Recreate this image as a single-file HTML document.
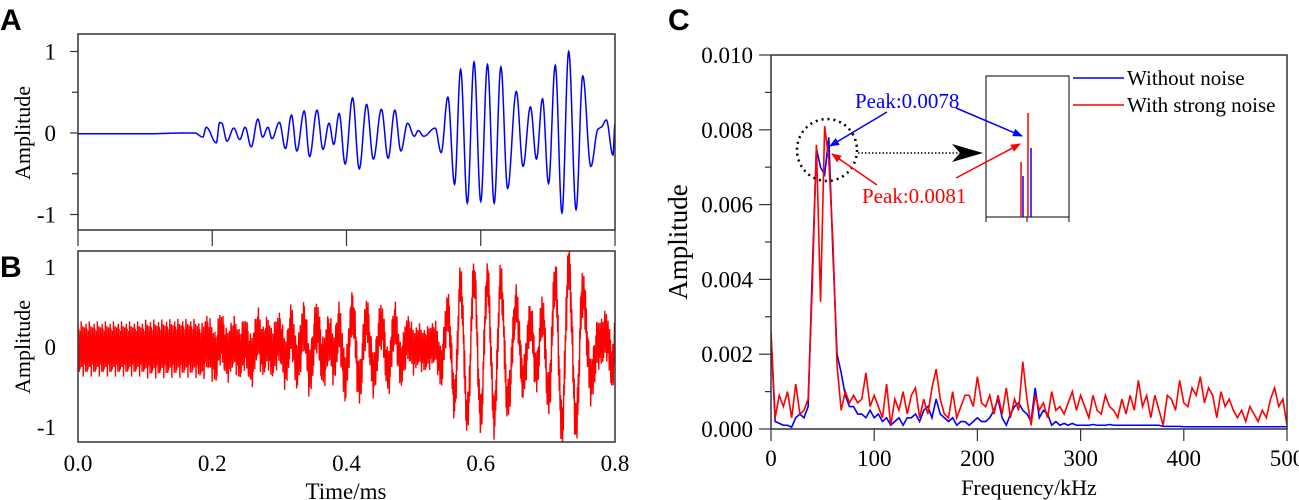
<!DOCTYPE html>
<html><head><meta charset="utf-8"><style>
body{margin:0;background:#fff;}
svg{display:block;font-family:"Liberation Serif",serif;}
.lbl{font-family:"Liberation Sans",sans-serif;font-weight:bold;font-size:30px;}
</style></head><body>
<svg id="fig" width="1299" height="500" viewBox="0 0 1299 500">
<defs>
<clipPath id="clipA"><rect x="78" y="34" width="537" height="196"/></clipPath>
<clipPath id="clipB"><rect x="78" y="251" width="537" height="191"/></clipPath>
<clipPath id="clipC"><rect x="771" y="40" width="516" height="390"/></clipPath>
<marker id="hb" markerWidth="10" markerHeight="8" refX="9" refY="4" orient="auto" markerUnits="userSpaceOnUse"><path d="M0,0 L10,4 L0,8 Z" fill="#0000ff"/></marker>
<marker id="hr" markerWidth="10" markerHeight="8" refX="9" refY="4" orient="auto" markerUnits="userSpaceOnUse"><path d="M0,0 L10,4 L0,8 Z" fill="#ff0000"/></marker>
</defs>
<text class="lbl" x="0" y="30">A</text>
<text class="lbl" x="0" y="277">B</text>
<text class="lbl" x="668" y="30">C</text>
<g id="gA"></g>
<g id="gB"></g>
<g id="gC"></g>
</svg>
<script>
// Panel A clean signal extremes (time ms, amplitude)
const tA=[0,0.1,0.16,0.174,0.186,0.191,0.206,0.211,0.214,0.222,0.232,0.241,0.249,0.258,0.268,0.275,0.283,0.289,0.300,0.309,0.318,0.326,0.337,0.345,0.356,0.365,0.374,0.381,0.389,0.398,0.409,0.419,0.430,0.440,0.452,0.462,0.472,0.481,0.491,0.501,0.507,0.515,0.532,0.541,0.551,0.561,0.570,0.580,0.590,0.600,0.610,0.620,0.630,0.640,0.653,0.663,0.674,0.683,0.692,0.701,0.711,0.721,0.731,0.742,0.752,0.764,0.775,0.779,0.787,0.797,0.800];
const vA=[-0.01,-0.01,0,0.0,-0.05,0.07,-0.12,0.13,0.12,-0.1,0.06,-0.08,0.07,-0.17,0.17,-0.05,0.07,-0.07,0.13,-0.19,0.22,-0.22,0.27,-0.29,0.28,-0.2,0.12,-0.14,0.24,-0.38,0.43,-0.44,0.35,-0.32,0.29,-0.31,0.28,-0.22,0.12,-0.04,0.03,-0.04,0.06,-0.24,0.44,-0.63,0.78,-0.86,0.87,-0.84,0.84,-0.86,0.81,-0.68,0.51,-0.41,0.32,-0.32,0.42,-0.62,0.83,-0.98,1.0,-0.94,0.7,-0.41,0.05,0.07,0.16,-0.27,0.12];
// Panel B noise amplitude per 0.1 ms, and noise pattern
const noiseAmpB=[0.3,0.32,0.3,0.3,0.27,0.25,0.25,0.28,0.3];
const noisePat=[1,-0.6,0.8,-1,0.4,-0.9,0.7,-0.3,1.1,-0.8,0.5,-0.45,0.9,-1.2,0.3,-0.7,0.85,-0.5,0.6,-1];
// Panel C spectra, 0..500 kHz step 4
const freqStep=4;
const specRed=[0.0026,0.0003,0.0009,0.0006,0.001,0.0003,0.0012,0.0004,0.0005,0.0008,0.0038,0.0076,0.0034,0.0081,0.0072,0.005,0.0017,0.0005,0.001,0.0007,0.0009,0.0007,0.0008,0.0015,0.0006,0.0009,0.0006,0.0003,0.0012,0.0001,0.0008,0.0005,0.001,0.0004,0.0009,0.0011,0.0003,0.0008,0.0004,0.0011,0.0016,0.0008,0.0004,0.0003,0.001,0.0003,0.0006,0.0009,0.0009,0.0006,0.0014,0.0007,0.0006,0.0009,0.0004,0.0009,0.0004,0.0011,0.0003,0.0008,0.0005,0.0018,0.0008,0.0001,0.0009,0.0005,0.0007,0.0003,0.001,0.0005,0.0006,0.0004,0.0007,0.001,0.0005,0.0009,0.0006,0.0003,0.0009,0.0005,0.0004,0.0009,0.0006,0.0005,0.0003,0.0008,0.0004,0.0009,0.0005,0.0013,0.0006,0.0009,0.0003,0.0009,0.0005,0.0001,0.0009,0.0008,0.0005,0.0013,0.0007,0.0006,0.0011,0.0009,0.0014,0.0007,0.0011,0.0009,0.0003,0.001,0.0006,0.0008,0.0005,0.0003,0.0005,0.0002,0.0006,0.0004,0.0002,0.0005,0.0003,0.0008,0.0011,0.0006,0.0008,0.0001];
const specBlue=[0.0025,0.0002,0.00015,0.0001,0.0001,0.00005,0.0003,0.0004,0.0003,0.0006,0.0042,0.0075,0.007,0.0068,0.0078,0.0047,0.002,0.0015,0.0009,0.0006,0.0006,0.0004,0.0004,0.0003,0.0005,0.0003,0.0004,0.0002,0.0003,0.0001,0.0002,0.0003,0.0001,0.0003,0.0003,0.0004,0.0002,0.0005,0.0006,0.0003,0.0008,0.0004,0.0003,0.0002,0.0003,0.0001,0.0002,0.0002,0.0001,0.0002,0.0003,0.0002,0.0002,0.0003,0.0005,0.0008,0.0003,0.0001,0.0004,0.0006,0.0007,0.0005,0.0004,0.0002,0.0011,0.0003,0.0005,0.0004,0.0001,0.0002,0.0001,0.00015,0.0001,0.00015,0.0001,0.0001,0.0001,0.0001,0.00012,0.0001,0.0001,0.0001,0.00012,0.0001,0.0001,0.0001,0.0001,0.0001,0.0001,0.0001,0.0001,0.0001,0.0001,0.0001,0.0001,0.00007,0.00007,0.00007,0.00007,0.00007,0.00006,0.00006,0.00006,0.00006,0.00006,0.00006,0.00006,0.00006,0.00006,0.00006,0.00006,0.00006,0.00006,0.00006,0.00006,0.00006,0.00006,0.00006,0.00006,0.00006,0.00006,0.00006,0.00006,0.00006,0.00006,0.00006];
const ticksTime=["0.0","0.2","0.4","0.6","0.8"];
const ticksAmp=["1","0","-1"];
const ticksSpecY=["0.000","0.002","0.004","0.006","0.008","0.010"];
const ticksFreq=["0","100","200","300","400","500"];

const NS="http://www.w3.org/2000/svg";
function mk(tag,attrs,parent,text){const e=document.createElementNS(NS,tag);for(const k in attrs)e.setAttribute(k,attrs[k]);if(text!==undefined)e.textContent=text;parent.appendChild(e);return e;}
const xT=t=>78+t/0.8*537;
const yA=v=>133-v*81.5;
const yB=v=>347-v*80;
const xC=f=>771+f/500*516;
const yC=v=>429-v/0.002*74.8;
function sigA(t){
  for(let i=0;i<tA.length-1;i++){if(t<=tA[i+1]){const u=(t-tA[i])/(tA[i+1]-tA[i]);const w=(1-Math.cos(Math.PI*Math.max(0,Math.min(1,u))))/2;return vA[i]+(vA[i+1]-vA[i])*w;}}
  return vA[vA.length-1];
}
const gA=document.getElementById('gA'),gB=document.getElementById('gB'),gC=document.getElementById('gC');
// Panel A
let d='';for(let i=0;i<=1600;i++){const t=i*0.0005;d+=(i?'L':'M')+xT(t).toFixed(2)+','+yA(sigA(t)).toFixed(2);}
let p=mk('path',{d:d,fill:'none',stroke:'#0000ff','stroke-width':1.5,'clip-path':'url(#clipA)'},gA);


let fr=mk('rect',{x:78,y:34,width:537,height:196,fill:'none',stroke:'#333','stroke-width':1.5},gA);


ticksAmp.forEach(s=>{const v=+s;mk('line',{x1:70,x2:78,y1:yA(v),y2:yA(v),stroke:'#333','stroke-width':1.2},gA);
 const tx=mk('text',{x:56,y:yA(v)+8,'text-anchor':'end','font-size':23},gA,s);
 
 });
[0.5,-0.5].forEach(v=>mk('line',{x1:72,x2:78,y1:yA(v),y2:yA(v),stroke:'#333','stroke-width':1.2},gA));
ticksTime.forEach(s=>mk('line',{x1:xT(+s),x2:xT(+s),y1:230,y2:246,stroke:'#333','stroke-width':1.2},gA));
let yt=mk('text',{transform:'translate(30,133) rotate(-90)','text-anchor':'middle','font-size':22},gA,'Amplitude');


// Panel B
d='';for(let i=0;i<=1333;i++){const t=Math.min(0.8,i*0.0006);const k=Math.min(noiseAmpB.length-1,Math.floor(t/0.1));const v=sigA(t)+noiseAmpB[k]*noisePat[i%noisePat.length];d+=(i?'L':'M')+xT(t).toFixed(2)+','+yB(v).toFixed(2);}
p=mk('path',{d:d,fill:'none',stroke:'#ff0000','stroke-width':1.4,'clip-path':'url(#clipB)'},gB);


fr=mk('rect',{x:78,y:251,width:537,height:191,fill:'none',stroke:'#333','stroke-width':1.5},gB);


ticksAmp.forEach(s=>{const v=+s;const tx=mk('text',{x:56,y:yB(v)+8,'text-anchor':'end','font-size':23},gB,s);
 
 });
ticksTime.forEach(s=>{const tx=mk('text',{x:xT(+s),y:471,'text-anchor':'middle','font-size':23},gB,s);
 
 });
yt=mk('text',{transform:'translate(30,347) rotate(-90)','text-anchor':'middle','font-size':22},gB,'Amplitude');


yt=mk('text',{x:346,y:499,'text-anchor':'middle','font-size':23},gB,'Time/ms');


// Panel C
function specPath(arr){let s='';arr.forEach((v,i)=>{s+=(i?'L':'M')+xC(i*freqStep).toFixed(2)+','+yC(v).toFixed(2);});return s;}
p=mk('path',{d:specPath(specBlue),fill:'none',stroke:'#0000ff','stroke-width':1.6,'clip-path':'url(#clipC)'},gC);


p=mk('path',{d:specPath(specRed),fill:'none',stroke:'#ff0000','stroke-width':1.6,'clip-path':'url(#clipC)'},gC);


mk('polyline',{points:'771,55 1287,55 1287,429 771,429 771,55',fill:'none',stroke:'#333','stroke-width':1.5},gC);
ticksSpecY.forEach(s=>{const v=+s;mk('line',{x1:759,x2:771,y1:yC(v),y2:yC(v),stroke:'#333','stroke-width':1.2},gC);
 const tx=mk('text',{x:753,y:yC(v)+8,'text-anchor':'end','font-size':23},gC,s);
 
 });
[0.001,0.003,0.005,0.007,0.009].forEach(v=>mk('line',{x1:765,x2:771,y1:yC(v),y2:yC(v),stroke:'#333','stroke-width':1.2},gC));
ticksFreq.forEach(s=>{const f=+s;mk('line',{x1:xC(f),x2:xC(f),y1:429,y2:441,stroke:'#333','stroke-width':1.2},gC);
 const tx=mk('text',{x:xC(f),y:466,'text-anchor':'middle','font-size':23},gC,s);
 
 });
yt=mk('text',{transform:'translate(687,242) rotate(-90)','text-anchor':'middle','font-size':27},gC,'Amplitude');


yt=mk('text',{x:1029,y:495,'text-anchor':'middle','font-size':22},gC,'Frequency/kHz');


// annotations
let el=mk('ellipse',{cx:827,cy:150,rx:30,ry:31,fill:'none',stroke:'#000','stroke-width':2.5,'stroke-dasharray':'2 4'},gC);


mk('line',{x1:858,y1:153,x2:960,y2:153,stroke:'#000','stroke-width':1.5,'stroke-dasharray':'1.5 2'},gC);
mk('path',{d:'M952,144 L983,153 L952,162 L960,153 Z',fill:'#000'},gC);
el=mk('rect',{x:986,y:76,width:83,height:141,fill:'#fff',stroke:'#000','stroke-width':1},gC);


[986,1027,1069].forEach(x=>mk('line',{x1:x,x2:x,y1:217,y2:222,stroke:'#000','stroke-width':1},gC));
mk('line',{x1:1023,x2:1023,y1:217,y2:176,stroke:'#0000ff','stroke-width':1.5},gC);
mk('line',{x1:1031,x2:1031,y1:217,y2:148,stroke:'#0000ff','stroke-width':1.5},gC);
mk('line',{x1:1021,x2:1021,y1:217,y2:162,stroke:'#ff0000','stroke-width':1.5},gC);
mk('line',{x1:1028,x2:1028,y1:217,y2:113,stroke:'#ff0000','stroke-width':1.5},gC);
mk('line',{x1:887,y1:112,x2:830,y2:146,stroke:'#0000ff','stroke-width':1.5,'marker-end':'url(#hb)'},gC);
mk('line',{x1:956,y1:108,x2:1022,y2:136,stroke:'#0000ff','stroke-width':1.5,'marker-end':'url(#hb)'},gC);
mk('line',{x1:877,y1:185,x2:832,y2:154,stroke:'#ff0000','stroke-width':1.5,'marker-end':'url(#hr)'},gC);
mk('line',{x1:956,y1:178,x2:1020,y2:144,stroke:'#ff0000','stroke-width':1.5,'marker-end':'url(#hr)'},gC);
el=mk('text',{x:855,y:108,'font-size':21,fill:'#0000ff'},gC,'Peak:0.0078');


el=mk('text',{x:862,y:203,'font-size':21,fill:'#ff0000'},gC,'Peak:0.0081');


// legend
mk('line',{x1:1073,x2:1124,y1:78,y2:78,stroke:'#0000ff','stroke-width':1.5},gC);
el=mk('text',{x:1127,y:85,'font-size':21},gC,'Without noise');


mk('line',{x1:1073,x2:1124,y1:105,y2:105,stroke:'#ff0000','stroke-width':1.5},gC);
el=mk('text',{x:1127,y:112,'font-size':21},gC,'With strong noise');


</script>
</body></html>
